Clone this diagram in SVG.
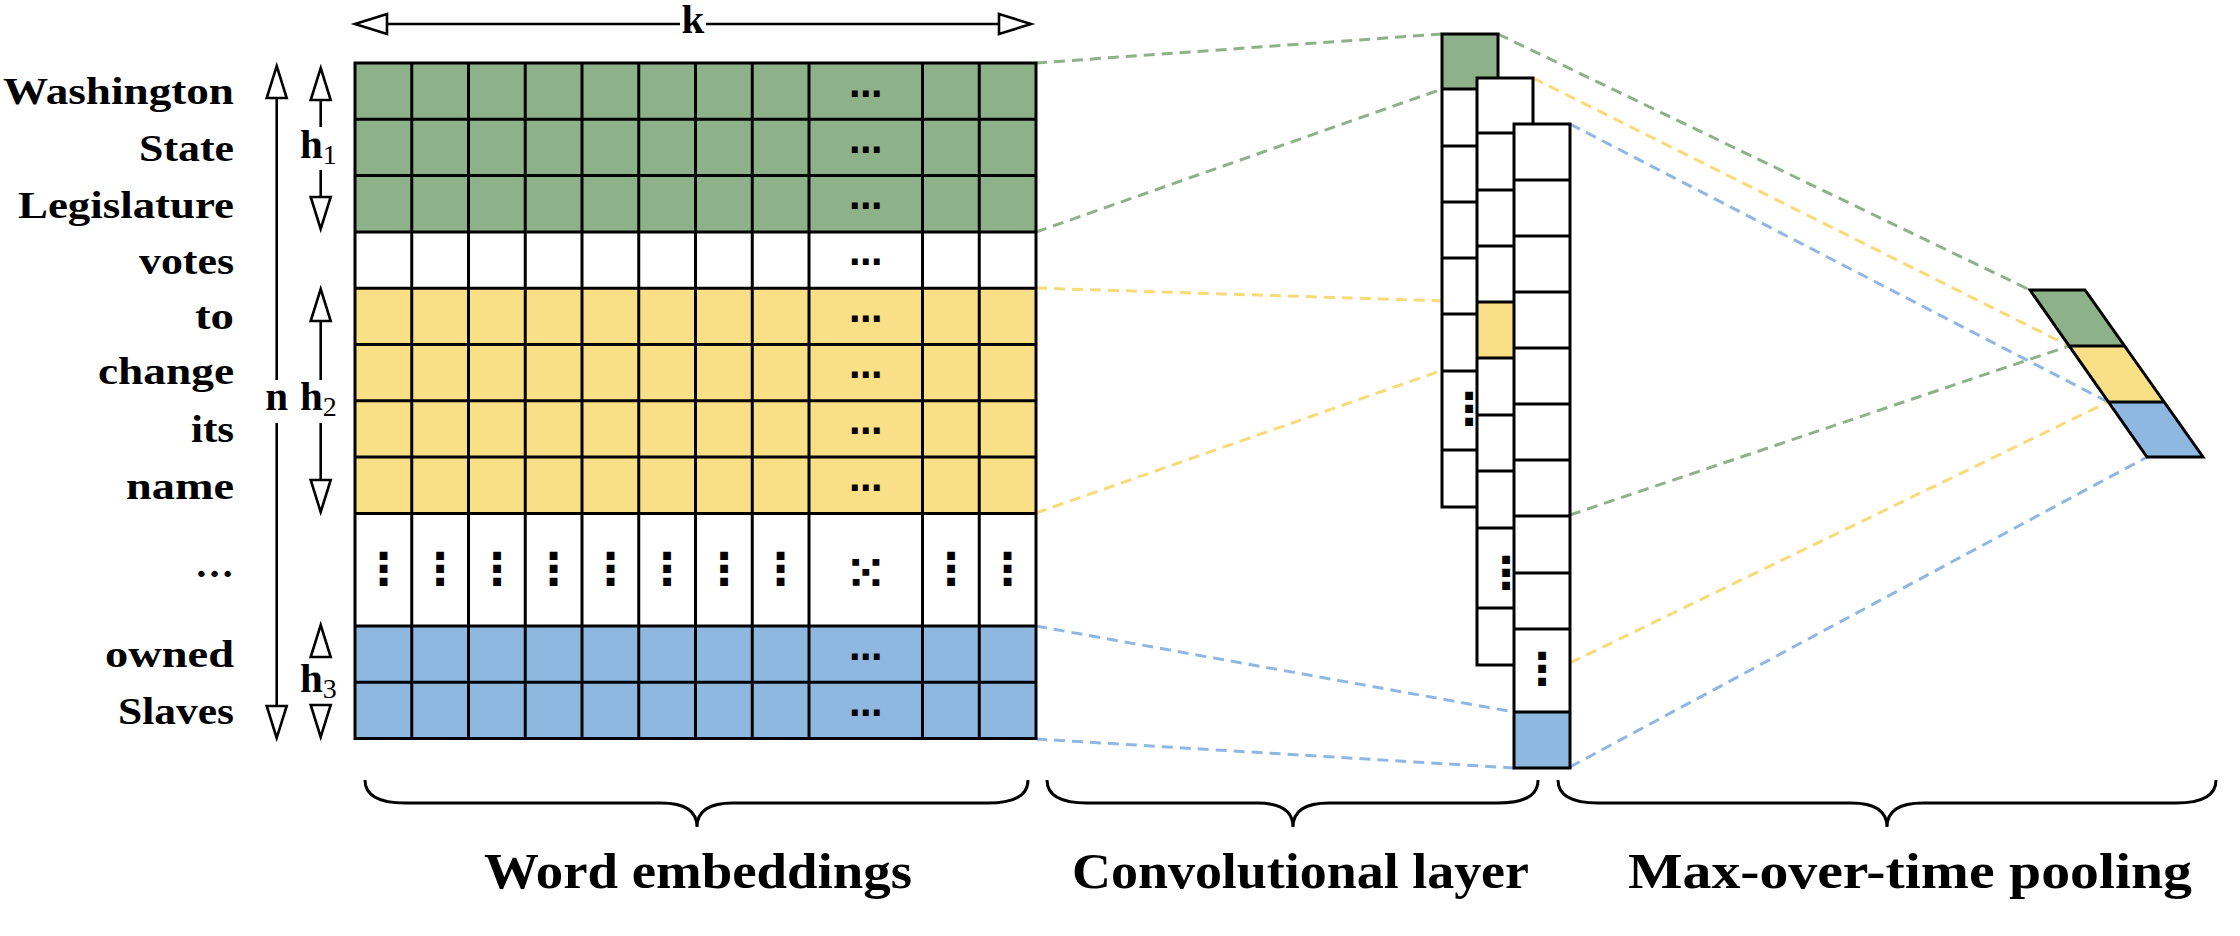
<svg xmlns="http://www.w3.org/2000/svg" xmlns:xlink="http://www.w3.org/1999/xlink" width="2240" height="936" viewBox="0 0 2240 936">
<style>
.lbl{font-family:"Liberation Serif","Times New Roman",serif;font-weight:bold;font-size:38px;fill:#000}
.sym{font-family:"Liberation Serif","Times New Roman",serif;font-weight:bold;font-size:41px;fill:#000}
.sub{font-family:"Liberation Serif","Times New Roman",serif;font-weight:normal;font-size:28px}
.cap{font-family:"Liberation Serif","Times New Roman",serif;font-weight:bold;font-size:50px;fill:#000}
.dots{font-family:"DejaVu Sans",sans-serif;font-weight:bold;font-size:33px;fill:#000;text-anchor:middle}
.vd{font-family:"DejaVu Sans",sans-serif;font-weight:bold;font-size:44px;fill:#000;text-anchor:middle}
.xd{font-family:"DejaVu Sans",sans-serif;font-weight:bold;font-size:46px;fill:#000;text-anchor:middle}
.ax{stroke:#000;stroke-width:2.6;fill:none}
.grid{stroke:#000;stroke-width:3;fill:none;stroke-linecap:square}
.cell{stroke:#000;stroke-width:3;fill:none;stroke-linejoin:miter}
.g{fill:#8DB188}.y{fill:#F9DF86}.b{fill:#8EB8E0}.w{fill:#FFFFFF}
.dg{stroke:#8DB188;stroke-width:3;stroke-dasharray:11 7;fill:none}
.dy{stroke:#F9DA78;stroke-width:3;stroke-dasharray:11 7;fill:none}
.db{stroke:#8EB8E3;stroke-width:3;stroke-dasharray:11 7;fill:none}
.brace{stroke:#000;stroke-width:3;fill:none}
</style>
<defs>
<path id="tri" d="M0,0 L10,32 L-10,32 Z" fill="#fff" stroke="#000" stroke-width="2.6" stroke-linejoin="miter"/>
</defs>
<rect width="2240" height="936" fill="#fff"/>

<g id="connectors">
<line class="dg" x1="1036" y1="63" x2="1442" y2="34"/>
<line class="dg" x1="1036" y1="232" x2="1442" y2="89"/>
<line class="dy" x1="1036" y1="288" x2="1477" y2="302"/>
<line class="dy" x1="1036" y1="513" x2="1477" y2="358"/>
<line class="db" x1="1036" y1="626" x2="1514" y2="712"/>
<line class="db" x1="1036" y1="739" x2="1514" y2="768"/>
<line class="dg" x1="1498" y1="34" x2="2030" y2="290"/>
<line class="dy" x1="1533" y1="78" x2="2069" y2="346"/>
<line class="db" x1="1570" y1="124" x2="2108" y2="402"/>
<line class="dg" x1="1570" y1="515" x2="2069" y2="346"/>
<line class="dy" x1="1570" y1="663" x2="2108" y2="402"/>
<line class="db" x1="1570" y1="767" x2="2147" y2="457"/>
</g>

<g id="arrow-k">
<path class="ax" d="M387,24 H680 M706,24 H999"/>
<use xlink:href="#tri" transform="translate(355,24) rotate(-90)"/>
<use xlink:href="#tri" transform="translate(1031,24) rotate(90)"/>
<text class="sym" x="693" y="33" text-anchor="middle">k</text>
</g>

<g id="arrow-n">
<path class="ax" d="M276.7,98 V380 M276.7,423 V706"/>
<use xlink:href="#tri" transform="translate(276.7,66)"/>
<use xlink:href="#tri" transform="translate(276.7,738) rotate(180)"/>
<text class="sym" x="276.7" y="410" text-anchor="middle">n</text>
</g>

<g id="arrow-h1">
<path class="ax" d="M320.7,100 V127 M320.7,170 V197"/>
<use xlink:href="#tri" transform="translate(320.7,68)"/>
<use xlink:href="#tri" transform="translate(320.7,229) rotate(180)"/>
<text class="sym" x="300" y="158">h<tspan class="sub" dy="6">1</tspan></text>
</g>

<g id="arrow-h2">
<path class="ax" d="M320.7,321 V380 M320.7,423 V480"/>
<use xlink:href="#tri" transform="translate(320.7,289)"/>
<use xlink:href="#tri" transform="translate(320.7,512) rotate(180)"/>
<text class="sym" x="300" y="410">h<tspan class="sub" dy="6">2</tspan></text>
</g>

<g id="arrow-h3">
<use xlink:href="#tri" transform="translate(320.7,625)"/>
<use xlink:href="#tri" transform="translate(320.7,737) rotate(180)"/>
<text class="sym" x="300" y="692">h<tspan class="sub" dy="6">3</tspan></text>
</g>

<g id="word-labels">
<text class="lbl" x="3" y="104" textLength="231" lengthAdjust="spacingAndGlyphs">Washington</text>
<text class="lbl" x="139" y="161" textLength="95" lengthAdjust="spacingAndGlyphs">State</text>
<text class="lbl" x="18" y="218" textLength="216" lengthAdjust="spacingAndGlyphs">Legislature</text>
<text class="lbl" x="139" y="274" textLength="95" lengthAdjust="spacingAndGlyphs">votes</text>
<text class="lbl" x="195" y="329" textLength="39" lengthAdjust="spacingAndGlyphs">to</text>
<text class="lbl" x="98" y="384" textLength="136" lengthAdjust="spacingAndGlyphs">change</text>
<text class="lbl" x="191" y="442" textLength="43" lengthAdjust="spacingAndGlyphs">its</text>
<text class="lbl" x="126" y="499" textLength="108" lengthAdjust="spacingAndGlyphs">name</text>
<text class="lbl" x="195" y="577" textLength="39" lengthAdjust="spacingAndGlyphs">…</text>
<text class="lbl" x="105" y="667" textLength="129" lengthAdjust="spacingAndGlyphs">owned</text>
<text class="lbl" x="118" y="724" textLength="116" lengthAdjust="spacingAndGlyphs">Slaves</text>
</g>

<g id="word-embeddings">
<rect class="g" x="355" y="63" width="681" height="168.9"/>
<rect class="w" x="355" y="231.9" width="681" height="56.3"/>
<rect class="y" x="355" y="288.2" width="681" height="225.2"/>
<rect class="w" x="355" y="513.4" width="681" height="112.6"/>
<rect class="b" x="355" y="626" width="681" height="112.6"/>
<path class="grid" d="M355,63 V738.6 M411.75,63 V738.6 M468.5,63 V738.6 M525.25,63 V738.6 M582,63 V738.6 M638.75,63 V738.6 M695.5,63 V738.6 M752.25,63 V738.6 M809,63 V738.6 M922.5,63 V738.6 M979.25,63 V738.6 M1036,63 V738.6 M355,63 H1036 M355,119.3 H1036 M355,175.6 H1036 M355,231.9 H1036 M355,288.2 H1036 M355,344.5 H1036 M355,400.8 H1036 M355,457.1 H1036 M355,513.4 H1036 M355,626 H1036 M355,682.3 H1036 M355,738.6 H1036"/>
<g class="dots">
<text x="865.75" y="96.5">…</text>
<text x="865.75" y="152.8">…</text>
<text x="865.75" y="209.1">…</text>
<text x="865.75" y="265.4">…</text>
<text x="865.75" y="321.7">…</text>
<text x="865.75" y="378">…</text>
<text x="865.75" y="434.3">…</text>
<text x="865.75" y="490.6">…</text>
<text x="865.75" y="659.5">…</text>
<text x="865.75" y="715.8">…</text>
</g>
<g class="vd">
<text x="383.4" y="584">⋮</text>
<text x="440.1" y="584">⋮</text>
<text x="496.9" y="584">⋮</text>
<text x="553.6" y="584">⋮</text>
<text x="610.4" y="584">⋮</text>
<text x="667.1" y="584">⋮</text>
<text x="723.9" y="584">⋮</text>
<text x="780.6" y="584">⋮</text>
<text x="950.9" y="584">⋮</text>
<text x="1007.6" y="584">⋮</text>
</g>
<text class="xd" x="865.75" y="589">⁙</text>
</g>

<g id="conv-col1">
<rect class="w" x="1442" y="34" width="56" height="473"/>
<rect class="g" x="1442" y="34" width="56" height="55"/>
<rect class="cell" x="1442" y="34" width="56" height="473"/>
<path class="cell" d="M1442,89 H1498 M1442,146 H1498 M1442,202 H1498 M1442,258 H1498 M1442,314 H1498 M1442,371 H1498 M1442,450 H1498"/>
<text class="vd" x="1469" y="424">⋮</text>
</g>

<g id="conv-col2">
<rect class="w" x="1477" y="78" width="56" height="587"/>
<rect class="y" x="1477" y="302" width="56" height="56"/>
<rect class="cell" x="1477" y="78" width="56" height="587"/>
<path class="cell" d="M1477,133 H1533 M1477,190 H1533 M1477,246 H1533 M1477,302 H1533 M1477,358 H1533 M1477,415 H1533 M1477,471 H1533 M1477,528 H1533 M1477,608 H1533"/>
<text class="vd" x="1506" y="588">⋮</text>
</g>

<g id="conv-col3">
<rect class="w" x="1514" y="124" width="56" height="644"/>
<rect class="b" x="1514" y="712" width="56" height="56"/>
<rect class="cell" x="1514" y="124" width="56" height="644"/>
<path class="cell" d="M1514,180 H1570 M1514,236 H1570 M1514,292 H1570 M1514,348 H1570 M1514,404 H1570 M1514,460 H1570 M1514,516 H1570 M1514,573 H1570 M1514,629 H1570 M1514,712 H1570"/>
<text class="vd" x="1542" y="684">⋮</text>
</g>

<g id="max-pool">
<polygon class="g" points="2030,290 2085,290 2124,346 2069,346"/>
<polygon class="y" points="2069,346 2124,346 2163,402 2108,402"/>
<polygon class="b" points="2108,402 2163,402 2203,457 2147,457"/>
<path class="cell" d="M2030,290 H2085 L2203,457 H2147 Z M2069,346 H2124 M2108,402 H2163"/>
</g>

<g id="brace-word">
<path class="brace" d="M365,780 Q365,803 405,803 L661,803 Q697,803 697,827 Q697,803 733,803 L988,803 Q1028,803 1028,780"/>
<text class="cap" x="484" y="888" textLength="428" lengthAdjust="spacingAndGlyphs">Word embeddings</text>
</g>
<g id="brace-conv">
<path class="brace" d="M1047,780 Q1047,803 1087,803 L1257,803 Q1293,803 1293,827 Q1293,803 1329,803 L1498,803 Q1538,803 1538,780"/>
<text class="cap" x="1072" y="888" textLength="457" lengthAdjust="spacingAndGlyphs">Convolutional layer</text>
</g>
<g id="brace-pool">
<path class="brace" d="M1558,780 Q1558,803 1598,803 L1851,803 Q1887,803 1887,827 Q1887,803 1923,803 L2176,803 Q2216,803 2216,780"/>
<text class="cap" x="1628" y="888" textLength="564" lengthAdjust="spacingAndGlyphs">Max-over-time pooling</text>
</g>
</svg>
